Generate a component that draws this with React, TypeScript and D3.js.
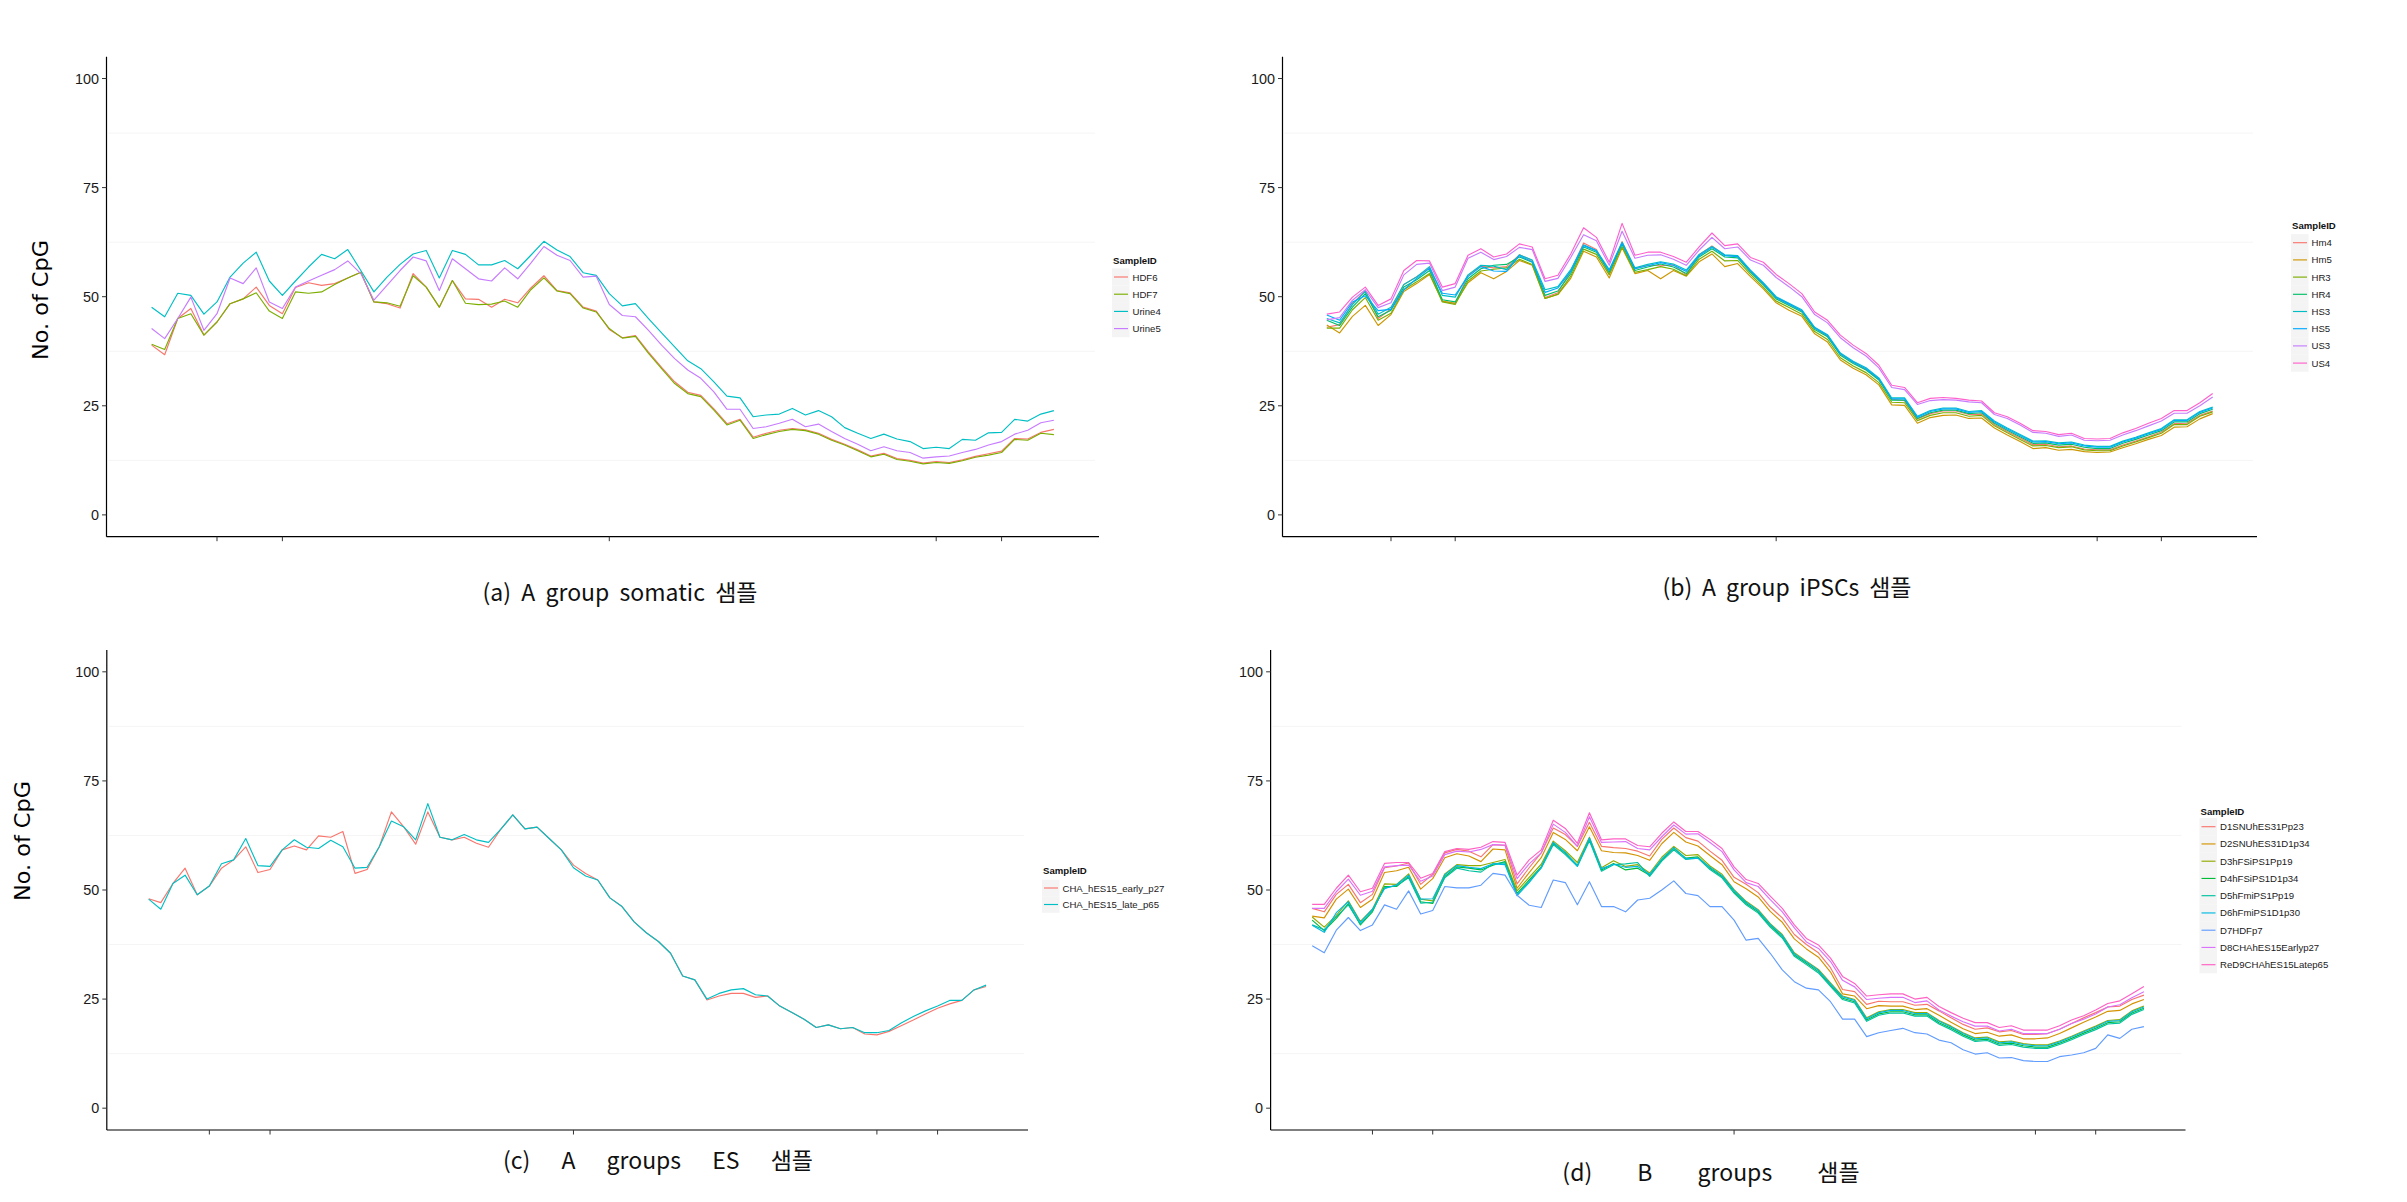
import React, { useLayoutEffect, useRef, useState } from 'react';
import * as d3 from 'd3';

// ---------------- data ----------------
const nPoints = 70;
const xTickIdx = [5, 10, 35, 60, 65];
const yTicks = [0, 25, 50, 75, 100];
const yMinorGrid = [12.5, 37.5, 62.5, 87.5];

// (a) A group somatic
const aNames = ['HDF6', 'HDF7', 'Urine4', 'Urine5'];
const aColors = ['#F8766D', '#7CAE00', '#00BFC4', '#C77CFF'];
const aHDF6 = [
  38.9, 36.7, 45.0, 47.3, 41.2, 44.2, 48.4, 49.5, 52.2, 48.0,
  46.1, 52.1, 53.2, 52.6, 53.0, 54.3, 55.6, 48.8, 48.4, 47.4,
  55.3, 52.2, 47.6, 53.7, 49.5, 49.4, 47.6, 49.4, 48.6, 52.0,
  54.8, 51.4, 50.9, 47.6, 46.7, 42.5, 40.6, 41.1, 37.3, 33.8,
  30.5, 28.1, 27.4, 24.3, 20.9, 21.9, 17.8, 18.7, 19.4, 19.8,
  19.5, 18.7, 17.3, 16.2, 14.9, 13.5, 14.1, 12.9, 12.5, 11.9,
  12.2, 12.0, 12.6, 13.4, 14.0, 14.6, 17.5, 17.4, 18.9, 19.6,
];
const aHDF7 = [
  39.1, 37.9, 45.0, 46.1, 41.2, 44.2, 48.4, 49.5, 50.9, 46.7,
  45.0, 51.1, 50.8, 51.1, 52.8, 54.3, 55.6, 48.8, 48.6, 47.8,
  54.8, 52.2, 47.6, 53.7, 48.5, 48.2, 48.3, 49.0, 47.6, 51.6,
  54.3, 51.3, 50.7, 47.4, 46.5, 42.7, 40.5, 40.9, 37.0, 33.5,
  30.1, 27.8, 27.1, 24.0, 20.6, 21.7, 17.5, 18.4, 19.1, 19.6,
  19.3, 18.5, 17.1, 16.0, 14.7, 13.3, 13.9, 12.7, 12.3, 11.7,
  12.0, 11.8, 12.4, 13.2, 13.7, 14.3, 17.3, 17.1, 18.7, 18.4,
];
const aUrine4 = [
  47.6, 45.4, 50.8, 50.3, 46.0, 48.8, 54.5, 57.7, 60.2, 53.6,
  50.3, 53.6, 56.8, 59.7, 58.7, 60.8, 56.0, 51.1, 54.5, 57.4,
  59.8, 60.6, 54.3, 60.6, 59.7, 57.3, 57.3, 58.3, 56.4, 59.5,
  62.7, 60.7, 59.2, 55.5, 54.9, 50.7, 47.9, 48.4, 45.0, 41.7,
  38.5, 35.3, 33.5, 30.5, 27.2, 26.8, 22.5, 22.9, 23.1, 24.4,
  22.9, 23.9, 22.5, 20.0, 18.7, 17.5, 18.5, 17.4, 16.8, 15.2,
  15.5, 15.2, 17.3, 17.1, 18.8, 18.9, 21.9, 21.5, 23.1, 23.9,
];
const aUrine5 = [
  42.7, 40.4, 45.0, 49.9, 42.3, 46.1, 54.3, 53.0, 56.6, 48.8,
  47.3, 52.2, 53.6, 54.9, 56.2, 58.2, 55.3, 49.2, 52.6, 56.0,
  59.1, 58.2, 51.4, 58.7, 56.4, 54.1, 53.6, 56.6, 54.1, 57.7,
  61.5, 59.5, 58.3, 54.5, 54.7, 48.2, 45.7, 45.4, 42.3, 38.9,
  35.8, 33.2, 31.3, 28.2, 24.2, 24.2, 19.8, 20.2, 21.0, 21.9,
  20.2, 20.8, 19.1, 17.5, 16.2, 14.7, 15.6, 14.7, 14.3, 13.0,
  13.3, 13.5, 14.3, 15.0, 16.0, 16.8, 18.5, 19.4, 21.1, 21.7,
];

// (b) A group iPSCs
const bNames = ['Hm4', 'Hm5', 'HR3', 'HR4', 'HS3', 'HS5', 'US3', 'US4'];
const bColors = ['#F8766D', '#CD9600', '#7CAE00', '#00BE67', '#00BFC4', '#00A9FF', '#C77CFF', '#FF61CC'];
const bHm4 = [
  43.0, 43.6, 48.4, 51.4, 45.0, 47.2, 52.8, 54.6, 56.6, 48.9,
  48.4, 54.9, 57.0, 56.6, 56.9, 59.6, 58.3, 49.8, 50.9, 55.9,
  62.3, 60.8, 55.2, 62.6, 56.4, 57.2, 57.1, 57.3, 55.0, 59.6,
  61.6, 59.5, 59.3, 55.9, 52.9, 49.8, 48.3, 46.7, 42.8, 41.0,
  36.9, 35.0, 33.4, 31.1, 26.5, 26.2, 22.0, 23.2, 23.8, 23.8,
  23.0, 23.1, 20.7, 19.1, 17.6, 16.1, 16.2, 15.6, 15.8, 15.1,
  14.9, 14.9, 16.0, 16.9, 17.9, 19.0, 20.9, 21.0, 22.8, 23.8,
];
const bHm5 = [
  43.5, 41.7, 45.5, 48.0, 43.4, 45.9, 51.2, 53.0, 55.1, 49.0,
  48.5, 53.2, 55.5, 54.1, 55.8, 58.3, 57.2, 49.6, 50.5, 54.2,
  60.4, 59.1, 54.3, 61.2, 55.3, 56.0, 54.1, 56.0, 54.7, 58.0,
  59.8, 56.9, 57.6, 54.6, 51.8, 48.6, 46.9, 45.5, 41.5, 39.6,
  35.5, 33.6, 32.1, 29.8, 25.2, 25.1, 21.0, 22.3, 22.8, 22.9,
  22.1, 22.2, 19.9, 18.3, 16.8, 15.2, 15.4, 14.8, 15.0, 14.5,
  14.3, 14.4, 15.4, 16.3, 17.3, 18.2, 20.1, 20.2, 22.0, 23.2,
];
const bHR3 = [
  42.8, 42.8, 47.0, 49.8, 44.6, 46.2, 51.6, 53.4, 55.3, 48.8,
  48.2, 53.6, 55.9, 56.3, 56.6, 58.6, 57.4, 49.6, 50.6, 54.7,
  60.9, 59.7, 55.0, 61.5, 55.6, 56.2, 56.9, 56.3, 54.8, 58.6,
  60.4, 58.2, 58.3, 55.1, 52.2, 49.0, 47.5, 46.0, 42.0, 40.2,
  36.0, 34.1, 32.6, 30.3, 25.8, 25.7, 21.6, 22.8, 23.4, 23.4,
  22.6, 22.8, 20.4, 18.8, 17.3, 15.8, 15.9, 15.4, 15.6, 14.9,
  14.7, 14.7, 15.8, 16.7, 17.7, 18.7, 20.7, 20.7, 22.6, 23.6,
];
const bHR4 = [
  44.6, 43.4, 47.6, 50.7, 45.4, 46.9, 52.2, 53.9, 56.0, 49.3,
  48.8, 54.1, 56.4, 57.2, 57.4, 59.1, 57.9, 50.3, 51.3, 55.3,
  61.4, 60.2, 55.6, 62.0, 56.0, 56.8, 57.5, 56.8, 55.3, 59.1,
  61.0, 59.1, 58.9, 55.6, 52.7, 49.5, 48.0, 46.5, 42.5, 40.8,
  36.6, 34.7, 33.2, 30.9, 26.3, 26.3, 22.1, 23.4, 24.0, 24.0,
  23.2, 23.4, 21.0, 19.4, 17.9, 16.4, 16.5, 16.0, 16.2, 15.5,
  15.2, 15.2, 16.4, 17.3, 18.3, 19.3, 21.3, 21.3, 23.2, 24.2,
];
const bHS3 = [
  45.0, 44.0, 48.2, 51.2, 46.0, 47.6, 52.8, 54.5, 56.9, 50.3,
  49.9, 55.0, 57.2, 57.0, 56.2, 59.6, 58.4, 51.6, 52.3, 56.2,
  61.9, 60.6, 56.2, 62.5, 56.6, 57.4, 58.0, 57.5, 56.1, 59.7,
  61.5, 59.6, 59.4, 56.1, 53.2, 50.0, 48.5, 47.0, 43.0, 41.3,
  37.1, 35.2, 33.7, 31.4, 26.8, 26.8, 22.6, 23.9, 24.5, 24.5,
  23.7, 23.9, 21.5, 19.9, 18.4, 16.9, 17.0, 16.5, 16.7, 16.0,
  15.7, 15.7, 16.9, 17.8, 18.8, 19.8, 21.8, 21.8, 23.7, 24.7,
];
const bHS5 = [
  45.8, 44.6, 48.8, 50.2, 46.8, 47.1, 51.6, 54.2, 56.5, 50.8,
  50.4, 54.6, 56.9, 55.9, 55.8, 59.4, 58.0, 51.0, 52.0, 55.8,
  61.7, 60.5, 56.0, 62.3, 56.4, 57.1, 57.8, 57.2, 55.8, 59.4,
  61.3, 59.4, 59.2, 55.9, 53.0, 49.8, 48.3, 46.8, 42.8, 41.1,
  36.9, 35.0, 33.5, 31.2, 26.6, 26.6, 22.4, 23.7, 24.3, 24.3,
  23.5, 23.7, 21.3, 19.7, 18.2, 16.7, 16.8, 16.3, 16.5, 15.8,
  15.5, 15.5, 16.7, 17.6, 18.6, 19.6, 21.6, 21.6, 23.5, 24.5,
];
const bUS3 = [
  44.7, 45.2, 49.2, 51.6, 47.5, 48.6, 55.0, 57.4, 57.7, 51.4,
  52.2, 58.8, 60.2, 58.5, 59.2, 61.3, 60.8, 53.5, 54.2, 59.0,
  64.2, 62.8, 57.2, 65.0, 58.8, 59.5, 59.6, 58.6, 57.2, 60.7,
  63.6, 61.0, 61.4, 58.4, 57.2, 54.4, 52.3, 50.0, 45.9, 44.0,
  40.6, 38.3, 36.4, 33.7, 29.2, 28.7, 25.3, 26.2, 26.4, 26.3,
  25.9, 25.7, 23.0, 22.1, 20.6, 18.9, 18.7, 18.0, 18.3, 17.1,
  17.0, 17.1, 18.3, 19.3, 20.4, 21.5, 23.3, 23.3, 25.0, 27.0,
];
const bUS4 = [
  46.0, 46.5, 49.9, 52.2, 48.0, 49.5, 56.0, 58.3, 58.2, 52.2,
  53.0, 59.5, 61.0, 59.1, 59.8, 62.1, 61.4, 54.1, 54.9, 59.8,
  65.8, 63.6, 57.9, 66.8, 59.5, 60.2, 60.2, 59.2, 57.9, 61.4,
  64.6, 61.7, 62.1, 59.0, 57.9, 55.1, 53.0, 50.7, 46.5, 44.6,
  41.2, 38.9, 37.0, 34.3, 29.7, 29.2, 25.7, 26.7, 26.9, 26.7,
  26.3, 26.1, 23.4, 22.5, 21.0, 19.3, 19.1, 18.4, 18.7, 17.5,
  17.4, 17.5, 18.8, 19.8, 21.0, 22.1, 23.9, 23.9, 25.7, 27.8,
];

// (c) A groups ES
const cNames = ['CHA_hES15_early_p27', 'CHA_hES15_late_p65'];
const cColors = ['#F8766D', '#00BFC4'];
const cEarly = [
  48.0, 47.1, 51.5, 55.0, 48.9, 50.9, 55.0, 56.9, 59.9, 54.0,
  54.7, 59.2, 60.1, 59.2, 62.4, 62.1, 63.4, 53.8, 54.7, 59.9,
  67.9, 64.5, 60.5, 67.9, 62.1, 61.5, 62.1, 60.7, 59.8, 63.9,
  67.2, 64.0, 64.4, 61.8, 59.2, 55.7, 53.8, 52.3, 48.2, 46.2,
  42.7, 40.2, 38.2, 35.5, 30.3, 29.4, 24.8, 25.7, 26.3, 26.3,
  25.4, 25.7, 23.4, 21.9, 20.4, 18.5, 19.1, 18.2, 18.5, 17.0,
  16.8, 17.6, 18.9, 20.2, 21.6, 22.9, 23.9, 24.7, 27.1, 27.9,
];
const cLate = [
  47.9, 45.6, 51.5, 53.4, 48.9, 50.9, 56.0, 56.9, 61.8, 55.6,
  55.4, 59.2, 61.5, 59.8, 59.5, 61.4, 59.9, 55.0, 55.2, 59.9,
  65.8, 64.5, 61.5, 69.8, 62.1, 61.5, 62.7, 61.5, 60.9, 63.9,
  67.2, 64.0, 64.4, 61.8, 59.2, 55.1, 53.2, 52.3, 48.2, 46.2,
  42.7, 40.2, 38.2, 35.5, 30.3, 29.4, 25.0, 26.3, 27.1, 27.4,
  26.0, 25.7, 23.4, 21.9, 20.4, 18.5, 19.1, 18.2, 18.5, 17.3,
  17.3, 17.8, 19.5, 21.0, 22.3, 23.4, 24.7, 24.7, 27.1, 28.2,
];

// (d) B groups
const dNames = [
  'D1SNUhES31Pp23', 'D2SNUhES31D1p34', 'D3hFSiPS1Pp19', 'D4hFSiPS1D1p34', 'D5hFmiPS1Pp19',
  'D6hFmiPS1D1p30', 'D7HDFp7', 'D8CHAhES15Earlyp27', 'ReD9CHAhES15Latep65',
];
const dColors = ['#F8766D', '#D39200', '#93AA00', '#00BA38', '#00C19F', '#00B9E3', '#619CFF', '#DB72FB', '#FF61C3'];
const dD1 = [
  45.8, 45.0, 49.0, 51.3, 47.1, 49.0, 55.1, 55.5, 56.2, 51.3,
  53.6, 58.5, 59.3, 58.9, 57.6, 60.4, 60.2, 51.4, 55.1, 58.5,
  64.2, 62.7, 60.0, 65.5, 60.0, 59.7, 59.5, 58.9, 57.8, 61.6,
  64.2, 62.0, 61.2, 58.9, 56.8, 52.9, 51.3, 49.4, 46.1, 43.6,
  39.8, 37.5, 35.6, 32.2, 27.2, 26.7, 23.8, 24.5, 24.4, 24.4,
  23.6, 23.8, 22.3, 20.7, 19.2, 18.1, 18.4, 17.5, 17.8, 16.9,
  16.9, 17.1, 18.1, 19.4, 20.7, 21.9, 23.2, 23.4, 24.9, 25.9,
];
const dD2 = [
  44.0, 43.6, 47.9, 50.2, 46.0, 47.9, 54.0, 54.4, 55.2, 50.2,
  52.6, 57.4, 58.3, 57.8, 56.5, 59.4, 59.2, 50.4, 54.0, 57.4,
  63.2, 61.6, 59.0, 64.5, 59.0, 58.6, 58.5, 57.9, 56.8, 60.6,
  63.2, 61.0, 60.1, 57.9, 55.8, 51.9, 50.3, 48.4, 45.1, 42.6,
  38.8, 36.5, 34.6, 31.2, 26.2, 25.7, 22.8, 23.5, 23.4, 23.4,
  22.6, 22.8, 21.3, 19.7, 18.2, 17.1, 17.4, 16.5, 16.8, 15.9,
  15.9, 16.1, 17.1, 18.4, 19.7, 20.9, 22.2, 22.4, 23.9, 24.9,
];
const dD3 = [
  43.8, 41.5, 44.2, 47.5, 42.8, 45.6, 51.4, 51.3, 53.7, 47.9,
  47.5, 53.7, 55.8, 55.6, 55.6, 56.3, 57.0, 49.8, 52.9, 55.9,
  61.2, 59.0, 56.3, 62.1, 55.1, 56.7, 55.4, 55.8, 53.9, 57.5,
  60.0, 57.9, 58.1, 55.5, 53.6, 50.1, 47.4, 45.5, 42.3, 39.8,
  35.6, 33.7, 31.8, 28.7, 25.7, 24.9, 20.7, 22.1, 22.6, 22.6,
  21.9, 21.9, 20.1, 18.8, 17.3, 16.1, 16.3, 15.2, 15.4, 14.8,
  14.5, 14.5, 15.4, 16.5, 17.7, 18.8, 20.1, 20.3, 22.3, 23.4,
];
const dD4 = [
  43.1, 40.7, 43.5, 46.9, 42.0, 45.0, 50.8, 50.8, 53.1, 47.3,
  46.9, 53.1, 55.3, 55.0, 54.6, 55.7, 56.5, 49.2, 52.3, 55.3,
  60.7, 58.4, 55.7, 61.6, 54.6, 56.1, 54.6, 55.0, 53.4, 56.9,
  59.5, 57.3, 57.6, 55.0, 53.1, 49.6, 46.9, 45.0, 41.8, 39.3,
  35.1, 33.2, 31.3, 28.2, 25.2, 24.4, 20.2, 21.6, 22.1, 22.1,
  21.4, 21.4, 19.6, 18.3, 16.8, 15.6, 15.8, 14.7, 14.9, 14.3,
  14.0, 14.0, 14.9, 16.0, 17.2, 18.3, 19.6, 19.8, 21.8, 22.9,
];
const dD5 = [
  42.0, 40.9, 43.9, 46.6, 42.2, 45.3, 50.5, 51.0, 52.8, 47.0,
  47.2, 52.8, 55.0, 54.4, 54.1, 56.0, 56.2, 48.9, 52.0, 55.0,
  60.4, 58.1, 55.4, 61.3, 54.3, 55.8, 56.0, 56.3, 53.1, 56.6,
  59.2, 57.0, 57.3, 54.7, 52.8, 49.3, 46.6, 44.7, 41.5, 39.0,
  34.8, 32.9, 31.0, 27.9, 24.9, 24.1, 19.9, 21.3, 21.8, 21.8,
  21.1, 21.1, 19.3, 18.0, 16.5, 15.3, 15.5, 14.4, 14.6, 14.0,
  13.7, 13.7, 14.6, 15.7, 16.9, 18.0, 19.3, 19.5, 21.5, 22.6,
];
const dD6 = [
  41.9, 40.3, 44.8, 47.3, 42.6, 45.6, 50.3, 51.2, 53.4, 47.9,
  48.0, 53.5, 55.6, 55.2, 54.9, 56.0, 55.8, 48.7, 51.7, 55.2,
  60.9, 58.6, 55.5, 61.9, 54.9, 55.9, 55.2, 55.4, 53.6, 57.1,
  59.7, 57.2, 57.3, 55.2, 53.3, 49.9, 47.2, 45.3, 42.1, 39.6,
  35.4, 33.5, 31.6, 28.5, 25.5, 24.7, 20.5, 21.9, 22.4, 22.4,
  21.7, 21.7, 19.9, 18.6, 17.1, 15.9, 16.1, 15.0, 15.2, 14.6,
  14.3, 14.3, 15.2, 16.3, 17.5, 18.6, 19.9, 20.1, 22.1, 23.2,
];
const dD7 = [
  37.2, 35.6, 40.8, 43.7, 40.7, 42.0, 46.6, 45.6, 49.8, 44.5,
  45.3, 50.8, 50.5, 50.5, 51.1, 53.8, 53.4, 48.8, 46.5, 46.0,
  52.3, 51.7, 46.6, 51.9, 46.2, 46.2, 45.0, 47.7, 48.1, 50.0,
  52.1, 49.2, 48.7, 46.2, 46.2, 43.1, 38.5, 38.9, 35.5, 31.7,
  29.0, 27.5, 27.1, 24.4, 20.4, 20.4, 16.4, 17.3, 17.8, 18.3,
  17.3, 17.0, 15.6, 15.0, 13.4, 12.4, 12.7, 11.5, 11.6, 10.9,
  10.7, 10.7, 11.8, 12.2, 12.7, 13.7, 16.8, 16.0, 18.1, 18.7,
];
const dD8 = [
  45.8, 45.8, 49.6, 52.5, 48.8, 49.7, 55.3, 55.6, 55.7, 52.0,
  53.2, 58.1, 58.9, 58.7, 59.3, 60.4, 60.3, 52.6, 56.0, 58.5,
  65.1, 63.2, 60.0, 66.8, 60.9, 61.0, 61.1, 59.5, 59.2, 62.2,
  64.9, 62.8, 62.9, 60.9, 58.8, 54.6, 51.7, 50.8, 47.8, 45.0,
  41.3, 38.1, 36.6, 33.6, 29.3, 27.8, 24.9, 25.2, 25.4, 25.4,
  24.2, 24.6, 22.5, 21.1, 19.8, 18.8, 18.8, 17.7, 18.1, 17.1,
  17.1, 17.1, 18.1, 19.4, 20.4, 21.6, 23.2, 23.7, 25.3, 26.7,
];
const dD9 = [
  46.7, 46.7, 50.4, 53.4, 49.6, 50.4, 56.1, 56.3, 56.3, 52.7,
  53.8, 58.8, 59.5, 59.3, 59.8, 61.1, 60.9, 53.4, 56.9, 59.2,
  66.0, 64.1, 60.7, 67.7, 61.5, 61.7, 61.7, 60.2, 59.9, 63.0,
  65.6, 63.4, 63.4, 61.6, 59.5, 55.3, 52.4, 51.5, 48.6, 45.8,
  42.0, 38.9, 37.4, 34.4, 30.2, 28.6, 25.7, 26.0, 26.2, 26.2,
  25.0, 25.4, 23.3, 21.9, 20.6, 19.6, 19.6, 18.5, 18.9, 17.9,
  17.9, 17.9, 18.9, 20.2, 21.2, 22.5, 24.0, 24.6, 26.2, 27.9,
];

// ---------------- layout ----------------
const W = 2407;
const H = 1202;
const TICK_FONT = "'Liberation Sans', Arial, Helvetica, sans-serif";
const CAP_FONT = "'Noto Sans CJK KR', 'Noto Sans', sans-serif";

type Series = { name: string; color: string; values: number[] };
type PanelSpec = {
  left: number; right: number; top: number; bottom: number;
  series: Series[];
  legend: { x: number; titleY: number; firstRowY: number; rowH: number };
  caption: { text: string; cx: number; y: number; width: number };
  ylabel?: { x: number; y: number };
};

const mk = (names: string[], colors: string[], vals: number[][]): Series[] =>
  names.map((n, i) => ({ name: n, color: colors[i], values: vals[i] }));

const panels: PanelSpec[] = [
  {
    left: 106.5, right: 1099, top: 56.7, bottom: 536.7,
    series: mk(aNames, aColors, [aHDF6, aHDF7, aUrine4, aUrine5]),
    legend: { x: 1113, titleY: 260.7, firstRowY: 277, rowH: 17.2 },
    caption: { text: '(a) A group somatic 샘플', cx: 620, y: 601, width: 275 },
    ylabel: { x: 41, y: 300 },
  },
  {
    left: 1282.5, right: 2257, top: 56.7, bottom: 536.7,
    series: mk(bNames, bColors, [bHm4, bHm5, bHR3, bHR4, bHS3, bHS5, bUS3, bUS4]),
    legend: { x: 2292, titleY: 225.7, firstRowY: 242.7, rowH: 17.2 },
    caption: { text: '(b) A group iPSCs 샘플', cx: 1787, y: 596, width: 249 },
  },
  {
    left: 106.8, right: 1028, top: 650, bottom: 1130,
    series: mk(cNames, cColors, [cEarly, cLate]),
    legend: { x: 1043, titleY: 870.7, firstRowY: 888, rowH: 16.5 },
    caption: { text: '(c) A groups ES 샘플', cx: 658, y: 1169, width: 310 },
    ylabel: { x: 23, y: 841 },
  },
  {
    left: 1270.6, right: 2185.5, top: 650, bottom: 1130,
    series: mk(dNames, dColors, [dD1, dD2, dD3, dD4, dD5, dD6, dD7, dD8, dD9]),
    legend: { x: 2200.5, titleY: 811, firstRowY: 826.7, rowH: 17.25 },
    caption: { text: '(d) B groups 샘플', cx: 1711, y: 1181, width: 318 },
  },
];

function Caption({ text, cx, y, width }: { text: string; cx: number; y: number; width: number }) {
  const ref = useRef<SVGTextElement>(null);
  const [ws, setWs] = useState(0);
  useLayoutEffect(() => {
    const el = ref.current;
    if (!el) return;
    const natural = el.getComputedTextLength();
    const spaces = text.split(' ').length - 1;
    const v = (width - natural) / Math.max(1, spaces);
    setWs(Math.max(-2, Math.min(40, v)));
  }, [text, width]);
  return (
    <text
      ref={ref}
      x={cx}
      y={y}
      textAnchor="middle"
      fontFamily={CAP_FONT}
      fontSize={23}
      fill="#111"
      style={{ wordSpacing: `${ws}px` }}
    >
      {text}
    </text>
  );
}

function Panel({ p }: { p: PanelSpec }) {
  const x = d3.scaleLinear().domain([-3.45, nPoints - 1 + 3.45]).range([p.left, p.right]);
  const y = d3.scaleLinear().domain([-5, 105]).range([p.bottom, p.top]);
  const line = d3
    .line<number>()
    .x((_, i) => x(i))
    .y((d) => y(d));
  const lg = p.legend;
  return (
    <g>
      {yMinorGrid.map((v) => (
        <line key={'g' + v} x1={p.left + 2} x2={p.right - 4} y1={y(v)} y2={y(v)} stroke="#F5F5F5" strokeWidth={1} />
      ))}
      {p.series.map((s) => (
        <path key={s.name} d={line(s.values) || ''} fill="none" stroke={s.color} strokeWidth={1.15} strokeLinejoin="round" />
      ))}
      <line x1={p.left} x2={p.left} y1={p.top} y2={p.bottom} stroke="#000" strokeWidth={1.2} />
      <line x1={p.left} x2={p.right} y1={p.bottom} y2={p.bottom} stroke="#000" strokeWidth={1.2} />
      {yTicks.map((t) => (
        <g key={'yt' + t}>
          <line x1={p.left - 4.5} x2={p.left} y1={y(t)} y2={y(t)} stroke="#333" strokeWidth={1} />
          <text
            x={p.left - 7.5}
            y={y(t)}
            textAnchor="end"
            dominantBaseline="central"
            fontFamily={TICK_FONT}
            fontSize={14.4}
            fill="#1a1a1a"
          >
            {t}
          </text>
        </g>
      ))}
      {xTickIdx.map((t) => (
        <line key={'xt' + t} x1={x(t)} x2={x(t)} y1={p.bottom} y2={p.bottom + 4.5} stroke="#333" strokeWidth={1} />
      ))}
      <text x={lg.x} y={lg.titleY} dominantBaseline="central" fontFamily={TICK_FONT} fontWeight="bold" fontSize={9.6} fill="#111">
        SampleID
      </text>
      {p.series.map((s, i) => {
        const cy = lg.firstRowY + i * lg.rowH;
        return (
          <g key={'lg' + s.name}>
            <rect x={lg.x - 1} y={cy - lg.rowH / 2} width={17.5} height={lg.rowH} fill="#F4F4F4" />
            <line x1={lg.x + 1} x2={lg.x + 15} y1={cy} y2={cy} stroke={s.color} strokeWidth={1.15} />
            <text x={lg.x + 19.5} y={cy} dominantBaseline="central" fontFamily={TICK_FONT} fontSize={9.6} fill="#1a1a1a">
              {s.name}
            </text>
          </g>
        );
      })}
      {p.ylabel && (
        <text
          transform={`translate(${p.ylabel.x},${p.ylabel.y}) rotate(-90)`}
          textAnchor="middle"
          dominantBaseline="central"
          fontFamily="'DejaVu Sans', 'Liberation Sans', sans-serif"
          fontSize={21}
          textLength={120}
          lengthAdjust="spacingAndGlyphs"
          fill="#000"
        >
          No. of CpG
        </text>
      )}
      <Caption {...p.caption} />
    </g>
  );
}

export default function App() {
  return (
    <svg
      width={W}
      height={H}
      viewBox={`0 0 ${W} ${H}`}
      style={{ position: 'absolute', left: 0, top: 0, background: '#fff' }}
    >
      <rect x={0} y={0} width={W} height={H} fill="#fff" />
      {panels.map((p, i) => (
        <Panel key={i} p={p} />
      ))}
    </svg>
  );
}
